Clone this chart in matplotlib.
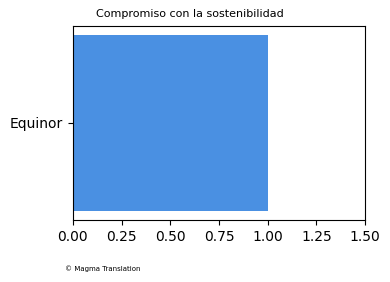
import matplotlib
matplotlib.use("Agg")
import matplotlib.pyplot as plt

# Data
companies = ["Equinor"]
scores = [1.0]
xticks = [0.0, 0.25, 0.5, 0.75, 1.0, 1.25, 1.5]

fig = plt.figure(figsize=(3.9, 2.82), dpi=100)
ax = fig.add_axes([0.187, 0.22, 0.749, 0.688])

ax.barh(companies, scores, color="#4A90E2")
ax.set_xlim(0, 1.5)
ax.set_xticks(xticks)
ax.set_xticklabels([f"{t:.2f}" for t in xticks])

# title sits slightly left of the axes centre in the original
fig.text(0.487, 0.95, "Compromiso con la sostenibilidad", fontsize=8,
         ha="center", va="center")

fig.text(0.167, 0.035, "© Magma Translation", fontsize=5, ha="left", va="bottom")

fig.savefig("out.png", dpi=100)
